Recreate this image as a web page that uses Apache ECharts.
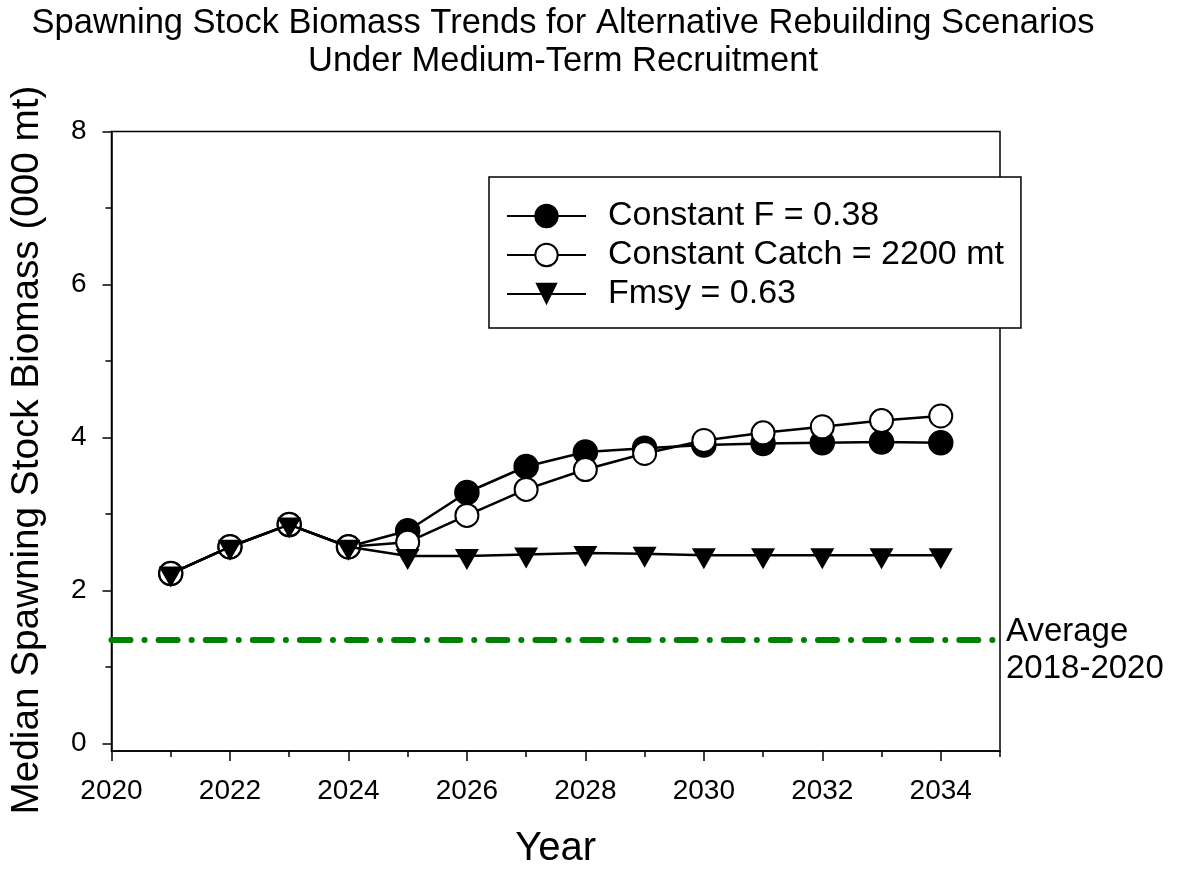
<!DOCTYPE html>
<html>
<head>
<meta charset="utf-8">
<title>Spawning Stock Biomass Trends</title>
<script src="https://cdn.jsdelivr.net/npm/echarts@6/dist/echarts.min.js"></script>
<style>
  html, body { margin: 0; padding: 0; background: #fff; }
  #chart { width: 1181px; height: 874px; }
</style>
</head>
<body>
<div id="chart"></div>
<script>
// Projection years and median spawning stock biomass (000 mt) per scenario
const years = [2021, 2022, 2023, 2024, 2025, 2026, 2027, 2028, 2029, 2030, 2031, 2032, 2033, 2034];
const constantF = [2.22, 2.57, 2.86, 2.57, 2.78, 3.28, 3.62, 3.81, 3.86, 3.90, 3.92, 3.93, 3.94, 3.93];
const constantCatch = [2.22, 2.57, 2.86, 2.57, 2.63, 2.98, 3.32, 3.58, 3.79, 3.96, 4.06, 4.14, 4.22, 4.28];
const fmsy = [2.22, 2.57, 2.86, 2.57, 2.45, 2.45, 2.47, 2.49, 2.48, 2.46, 2.46, 2.46, 2.46, 2.46];

// Reference level: average SSB over 2018-2020
const averageSpan = [2020, 2035];
const averageSSB = 1.35;

// Axis ticks and labels
const xMajorTicks = [2020, 2022, 2024, 2026, 2028, 2030, 2032, 2034];
const xMinorTicks = [2021, 2023, 2025, 2027, 2029, 2031, 2033, 2035];
const yMajorTicks = [0, 2, 4, 6, 8];
const yMinorTicks = [1, 3, 5, 7];

const seriesNames = ['Constant F = 0.38', 'Constant Catch = 2200 mt', 'Fmsy = 0.63'];

const FONT = "'Liberation Sans', Arial, sans-serif";
const BLACK = '#000';

const pair = (xs, ys) => xs.map((x, i) => [x, ys[i]]);

const chart = echarts.init(document.getElementById('chart'), null, { renderer: 'canvas' });

chart.setOption({
  animation: false,
  backgroundColor: '#fff',
  textStyle: { fontFamily: FONT, color: BLACK },
  grid: {
    left: 111.5, top: 131.5, right: 181, bottom: 122,
    show: true, borderColor: BLACK, borderWidth: 1.5, backgroundColor: 'transparent'
  },
  graphic: [
    {
      type: 'text', x: 563, y: 4.5, z: 10,
      style: {
        text: 'Spawning Stock Biomass Trends for Alternative Rebuilding Scenarios\nUnder Medium-Term Recruitment',
        font: '34.5px ' + FONT, fill: BLACK, align: 'center', verticalAlign: 'top', lineHeight: 37.7
      }
    },
    {
      type: 'text', x: 27.5, y: 450, rotation: Math.PI / 2, z: 10,
      style: {
        text: 'Median Spawning Stock Biomass (000 mt)',
        font: '38.7px ' + FONT, fill: BLACK, align: 'center', verticalAlign: 'middle'
      }
    }
  ],
  legend: {
    data: seriesNames,
    orient: 'vertical',
    left: 489, top: 177,
    padding: [22, 17, 17, 17],
    itemGap: 5,
    itemWidth: 79, itemHeight: 28,
    borderColor: BLACK, borderWidth: 1.5, borderRadius: 0,
    backgroundColor: '#fff',
    textStyle: { fontFamily: FONT, fontSize: 34, lineHeight: 34, color: BLACK, padding: [0, 0, 0, 17] }
  },
  xAxis: [
    {
      type: 'value', min: 2020, max: 2035, position: 'bottom',
      axisLine: { onZero: false, lineStyle: { color: BLACK, width: 1.5 } },
      axisTick: { show: true, customValues: xMajorTicks, length: 10, lineStyle: { color: BLACK, width: 1.5 } },
      axisLabel: {
        customValues: xMajorTicks, fontSize: 28, color: BLACK, margin: 26, fontFamily: FONT,
        formatter: v => String(v)
      },
      splitLine: { show: false },
      name: 'Year', nameLocation: 'middle', nameGap: 78,
      nameTextStyle: { fontSize: 40, color: BLACK, fontFamily: FONT }
    },
    {
      type: 'value', min: 2020, max: 2035, position: 'bottom',
      axisLine: { show: false, onZero: false },
      axisTick: { show: true, customValues: xMinorTicks, length: 6, lineStyle: { color: BLACK, width: 1.5 } },
      axisLabel: { show: false },
      splitLine: { show: false }
    }
  ],
  yAxis: [
    {
      type: 'value', min: -0.1, max: 8, position: 'left',
      axisLine: { show: true, onZero: false, lineStyle: { color: BLACK, width: 1.5 } },
      axisTick: { show: true, customValues: yMajorTicks, length: 9, lineStyle: { color: BLACK, width: 1.5 } },
      axisLabel: { customValues: yMajorTicks, fontSize: 28, color: BLACK, margin: 25, fontFamily: FONT },
      splitLine: { show: false }
    },
    {
      type: 'value', min: -0.1, max: 8, position: 'left',
      axisLine: { show: false, onZero: false },
      axisTick: { show: true, customValues: yMinorTicks, length: 6, lineStyle: { color: BLACK, width: 1.5 } },
      axisLabel: { show: false },
      splitLine: { show: false }
    }
  ],
  series: [
    {
      name: 'Average 2018-2020',
      type: 'line',
      data: averageSpan.map(x => [x, averageSSB]),
      symbol: 'none',
      lineStyle: { color: '#008000', width: 6, type: [19, 14, 0.1, 14], cap: 'round' },
      endLabel: {
        show: true, formatter: 'Average\n2018-2020', fontSize: 33, lineHeight: 37,
        color: BLACK, fontFamily: FONT, distance: 6, offset: [0, 10]
      },
      silent: true, z: 1
    },
    {
      name: seriesNames[0],
      type: 'line',
      data: pair(years, constantF),
      symbol: 'circle', symbolSize: 24,
      itemStyle: { color: BLACK, borderColor: BLACK, borderWidth: 1.5 },
      lineStyle: { color: BLACK, width: 2.5 },
      z: 2
    },
    {
      name: seriesNames[1],
      type: 'line',
      data: pair(years, constantCatch),
      symbol: 'circle', symbolSize: 23,
      itemStyle: { color: '#fff', borderColor: BLACK, borderWidth: 2 },
      lineStyle: { color: BLACK, width: 2.5 },
      z: 3
    },
    {
      name: seriesNames[2],
      type: 'line',
      data: pair(years, fmsy),
      symbol: 'triangle', symbolRotate: 180, symbolSize: [24, 21], symbolOffset: [0, 3.5],
      itemStyle: { color: BLACK },
      lineStyle: { color: BLACK, width: 2.5 },
      z: 4
    }
  ]
});
</script>
</body>
</html>
